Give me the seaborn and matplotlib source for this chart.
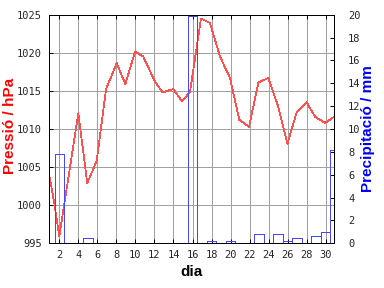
import numpy as np
import pandas as pd
import matplotlib
matplotlib.use("Agg")
import matplotlib.pyplot as plt
import seaborn as sns

# ---- data ----
pressure_day = [1.0, 1.47, 2.0, 4.0, 4.94, 5.93, 6.91, 8.03, 8.94, 9.96, 10.83,
                12.06, 12.87, 13.98, 14.9, 15.74, 16.89, 17.84, 18.89, 19.94,
                20.92, 21.94, 22.92, 23.97, 25.0, 25.97, 26.95, 28.0, 28.88,
                29.93, 30.87]
pressure_hpa = [1003.6, 1000.3, 995.9, 1012.05, 1002.9, 1005.8, 1015.2, 1018.65,
                1015.9, 1020.15, 1019.5, 1016.2, 1014.8, 1015.25, 1013.6, 1014.9,
                1024.5, 1023.9, 1019.5, 1016.7, 1011.2, 1010.3, 1016.1, 1016.7,
                1012.95, 1008.05, 1012.2, 1013.5, 1011.6, 1010.8, 1011.6]
precip_day = [2, 5, 16, 18, 20, 23, 25, 26, 27, 29, 30, 31]
precip_mm = [7.8, 0.44, 19.9, 0.2, 0.2, 0.8, 0.8, 0.2, 0.44, 0.6, 1.0, 8.2]
x_ticks = list(range(2, 31, 2))
p_ticks = list(range(995, 1026, 5))
r_ticks = list(range(0, 21, 2))

sns.set_theme(style="white")
plt.rcParams["font.family"] = ["DejaVu Sans"]

W, H = 384, 288
fig = plt.figure(figsize=(W / 100, H / 100), dpi=100)
L, R, T, B = 49, 334.3, 14.7, 243.3
ax = fig.add_axes([L / W, 1 - B / H, (R - L) / W, (B - T) / H])
ax2 = ax.twinx()

red_line = "#ff5050"
blue = "#4646ff"
px = 0.72  # one pixel in points

df_p = pd.DataFrame({"dia": pressure_day, "p": pressure_hpa})
sns.lineplot(data=df_p, x="dia", y="p", ax=ax, color=red_line, linewidth=0.55,
             antialiased=False)

df_r = pd.DataFrame({"dia": precip_day, "mm": precip_mm})
ax2.bar(df_r["dia"], df_r["mm"], width=1.0, fill=False, edgecolor=blue,
        linewidth=px, antialiased=False)

ax.set_xlim(0.92, 30.9)
ax.set_ylim(995, 1025)
ax2.set_ylim(0, 20)
ax.set_xticks(x_ticks)
ax.set_yticks(p_ticks)
ax2.set_yticks(r_ticks)

ax.grid(True, color="#a0a0a0", linewidth=px, antialiased=False)
ax.set_axisbelow(True)

mono = "DejaVu Sans Mono"
for a in (ax, ax2):
    for s in a.spines.values():
        s.set_color("black")
        s.set_linewidth(px)
        s.set_visible(True)

ax.tick_params(axis="x", which="both", direction="in", length=3, width=px,
               color="black", top=True, bottom=True, pad=4.5, labelsize=7.5)
ax.tick_params(axis="y", direction="in", length=3, width=px, color="black",
               left=True, right=False, pad=5.3, labelsize=7.5)
ax2.tick_params(axis="y", direction="in", length=3, width=px, color="black",
                right=True, left=False, pad=10, labelsize=7.5)
for lab in ax.get_xticklabels() + ax.get_yticklabels() + ax2.get_yticklabels():
    lab.set_family(mono)

lab_font = dict(family="Liberation Sans", fontweight="bold", fontsize=11)
ax.set_xlabel("dia", color="black", **lab_font)
ax.set_ylabel("Pressió / hPa", color="#ff0000", **lab_font)
ax2.set_ylabel("Precipitació / mm", color="#0000ff", **lab_font)
ax.xaxis.set_label_coords(0.5, -0.095)
ax.yaxis.set_label_coords(-0.113, 0.513)
ax2.yaxis.set_label_coords(1.094, 0.5)

fig.savefig("out.png", dpi=100)
